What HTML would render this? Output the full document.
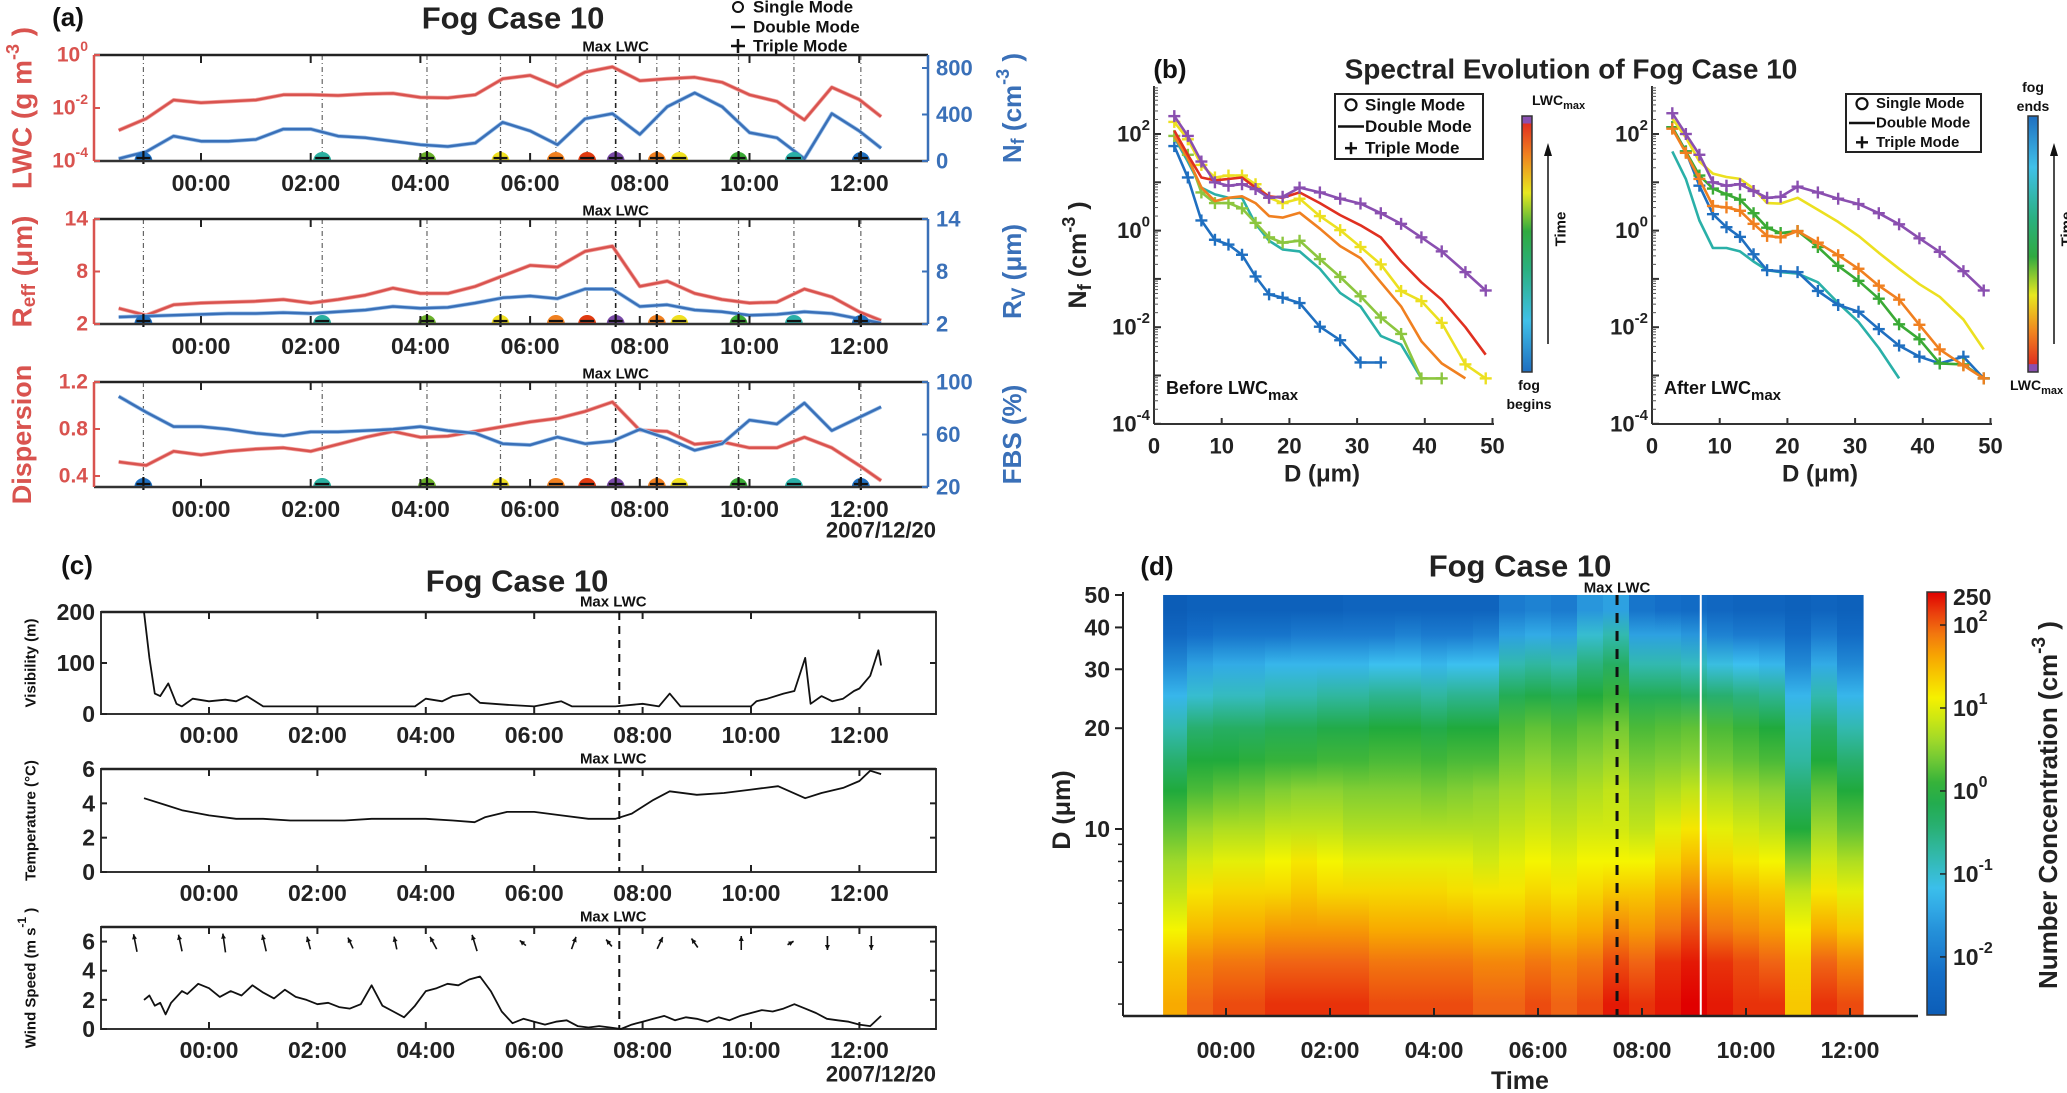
<!DOCTYPE html>
<html><head><meta charset="utf-8">
<style>
html,body{margin:0;padding:0;background:#fff;}
svg{display:block;font-family:"Liberation Sans",Arial,sans-serif;font-weight:bold;}
</style></head>
<body>
<svg id="fig" width="2067" height="1093" viewBox="0 0 2067 1093" xmlns="http://www.w3.org/2000/svg"></svg>
<script>
// ---------- DATA: panel (a) ----------
const timesA = [-1.5,-1,-0.5,0,0.5,1,1.5,2,2.5,3,3.5,4,4.5,5,5.5,6,6.5,7,7.5,8,8.5,9,9.5,10,10.5,11,11.5,12,12.4];
const lwcLog = [-2.84,-2.4,-1.7,-1.8,-1.75,-1.7,-1.5,-1.5,-1.53,-1.47,-1.45,-1.6,-1.62,-1.5,-0.9,-0.77,-1.2,-0.65,-0.45,-0.97,-0.9,-0.84,-1.03,-1.5,-1.75,-2.45,-1.22,-1.68,-2.33];
const nfVals = [20,80,214,170,170,185,274,274,214,200,170,140,125,155,333,259,140,363,408,229,467,586,467,244,200,20,408,259,110];
const reffVals = [3.8,3.0,4.2,4.4,4.5,4.6,4.8,4.4,4.8,5.3,6.1,5.5,5.5,6.3,7.5,8.7,8.5,10.3,10.9,6.3,6.9,5.5,4.8,4.4,4.5,6.0,5.1,3.4,2.4];
const rvVals = [2.8,2.9,3.0,3.1,3.2,3.2,3.3,3.2,3.4,3.6,4.0,3.8,3.9,4.4,5.0,5.2,4.9,6.0,6.0,4.0,4.2,3.6,3.4,3.0,3.1,3.4,3.2,2.6,2.1];
const dispVals = [0.52,0.49,0.61,0.58,0.61,0.63,0.64,0.61,0.67,0.73,0.78,0.73,0.74,0.78,0.82,0.86,0.89,0.95,1.03,0.79,0.78,0.67,0.69,0.64,0.64,0.73,0.64,0.49,0.36];
const fbsVals = [89,77,66,66,64,61,59,62,62,63,64,66,63,61,53,52,58,53,55,64,57,48,53,71,68,84,63,73,81];
const markerTimes = [-1.05,2.21,4.12,5.46,6.47,7.04,7.56,8.31,8.72,9.8,10.81,12.03];
const markerColors = ['#1f6fc0','#2ab0a0','#6ab02a','#f0e020','#f08020','#e03a10','#7a4aa8','#f08020','#f0e020','#3aaa35','#2ab0a8','#1f6fc0'];
const markerModes = ['+','-','+','+','-','-','+','+','-','+','-','+'];
const maxLwcTime = 7.56;
const hourTicks = [0,2,4,6,8,10,12];
const hourLabels = ['00:00','02:00','04:00','06:00','08:00','10:00','12:00'];

// ---------- DATA: panel (b) ----------
const dBins = [3,5,7,9,11,13,15,17,19,21.5,24.5,27.5,30.5,33.5,36.5,39.5,42.5,46,49];
const beforeColors = ['#1f6fc0','#2ab0a8','#8cc63f','#f08020','#ece020','#e03020','#8a4fb0'];
const beforeMarks = [true,false,true,false,true,false,true];
const beforeBlue = [1.75,1.1,0.21,-0.19,-0.29,-0.5,-0.95,-1.32,-1.39,-1.5,-1.99,-2.27,-2.73,-2.73,null,null,null,null,null];
const beforeTeal = [1.93,1.43,0.89,0.75,0.68,0.68,0.14,-0.21,-0.39,-0.43,-0.79,-1.29,-1.57,-2.18,-2.36,-3.06,null,null,null];
const beforeYG = [1.96,1.57,0.79,0.57,0.57,0.46,0.16,-0.14,-0.25,-0.21,-0.59,-0.96,-1.36,-1.8,-2.14,-3.06,-3.06,null,null];
const beforeOrange = [1.96,1.5,0.89,0.61,0.68,0.71,0.57,0.3,0.27,0.37,0.04,-0.32,-0.57,-1.07,-1.57,-2.29,-2.75,-3.06,null];
const beforeYellow = [2.25,1.89,1.36,1.1,1.14,1.14,0.96,0.68,0.57,0.66,0.3,0.01,-0.34,-0.7,-1.25,-1.46,-1.91,-2.77,-3.06];
const beforeRed = [2.07,1.57,1.1,1.04,1.07,1.1,0.89,0.71,0.68,0.79,0.57,0.32,0.11,-0.14,-0.64,-1.07,-1.43,-2.0,-2.57];
const beforePurple = [2.37,1.96,1.43,1.0,0.93,0.96,0.86,0.68,0.7,0.89,0.79,0.66,0.56,0.36,0.14,-0.14,-0.43,-0.86,-1.24];
const afterColors = ['#2ab0a8','#1f6fc0','#3aaa35','#f08020','#ece020','#8a4fb0'];
const afterMarks = [false,true,true,true,false,true];
const afterTeal = [1.64,1.07,0.21,-0.36,-0.36,-0.43,-0.64,-0.82,-0.86,-0.89,-1.07,-1.5,-1.89,-2.43,-3.06,null,null,null,null];
const afterBlue = [2.14,1.64,0.93,0.34,0.07,-0.13,-0.49,-0.82,-0.84,-0.86,-1.25,-1.54,-1.68,-2.04,-2.38,-2.61,-2.75,-2.61,-3.06];
const afterGreen = [2.14,1.64,1.14,0.87,0.75,0.64,0.36,0.06,-0.05,-0.01,-0.34,-0.73,-1.04,-1.41,-1.94,-2.25,-2.75,-2.77,-3.06];
const afterOrange = [2.11,1.61,1.07,0.51,0.48,0.41,0.14,-0.11,-0.14,-0.01,-0.25,-0.51,-0.79,-1.14,-1.43,-1.95,-2.46,-2.79,-3.06];
const afterYellow = [2.32,1.93,1.43,1.18,1.11,1.07,0.87,0.57,0.56,0.68,0.43,0.18,-0.11,-0.46,-0.79,-1.11,-1.37,-1.84,-2.46];
const afterPurple = [2.43,2.0,1.57,1.0,0.93,0.96,0.82,0.68,0.7,0.91,0.79,0.66,0.55,0.36,0.13,-0.16,-0.44,-0.84,-1.24];

// ---------- DATA: panel (c) ----------
const visTimes = [-1.2,-1.1,-1.0,-0.9,-0.75,-0.6,-0.5,-0.3,0,0.3,0.5,0.7,1,2,3,3.8,4,4.3,4.5,4.8,5,5.5,6,6.5,6.7,7,7.5,8,8.3,8.5,8.7,9,10,10.1,10.3,10.6,10.8,11,11.1,11.3,11.5,11.7,11.9,12,12.2,12.35,12.4];
const visVals = [200,110,40,35,60,20,15,30,25,28,25,35,15,15,15,15,30,25,35,40,22,18,15,25,15,15,15,20,15,40,15,15,15,25,30,40,45,110,20,35,25,30,45,50,75,125,95];
const tempTimes = [-1.2,-0.8,-0.5,0,0.5,1,1.5,2,2.5,3,3.5,4,4.5,4.9,5.1,5.5,6,6.5,7,7.5,7.8,8.2,8.5,9,9.5,10,10.5,11,11.3,11.7,12,12.2,12.4];
const tempVals = [4.3,3.9,3.6,3.3,3.1,3.1,3.0,3.0,3.0,3.1,3.1,3.1,3.0,2.9,3.2,3.5,3.5,3.3,3.1,3.1,3.4,4.2,4.7,4.5,4.6,4.8,5.0,4.3,4.6,4.9,5.3,5.9,5.7];
const windTimes = [-1.2,-1.1,-1.0,-0.9,-0.8,-0.7,-0.5,-0.4,-0.2,0,0.2,0.4,0.6,0.8,1,1.2,1.4,1.6,1.8,2,2.2,2.4,2.6,2.8,3,3.2,3.4,3.6,3.8,4,4.2,4.4,4.6,4.8,5,5.2,5.4,5.6,5.8,6,6.2,6.4,6.6,6.8,7,7.2,7.4,7.6,7.8,8,8.2,8.4,8.6,8.8,9,9.2,9.4,9.6,9.8,10,10.2,10.4,10.6,10.8,11,11.2,11.4,11.6,11.8,12,12.2,12.4];
const windVals = [2.0,2.3,1.6,1.8,1.0,1.8,2.6,2.4,3.1,2.8,2.2,2.6,2.3,3.0,2.5,2.1,2.7,2.2,2.0,1.7,1.8,1.5,1.4,1.7,3.0,1.6,1.2,0.8,1.6,2.6,2.8,3.1,3.0,3.4,3.6,2.6,1.2,0.4,0.7,0.5,0.3,0.5,0.6,0.2,0.1,0.2,0.1,0.0,0.3,0.5,0.7,0.9,0.6,0.8,0.7,0.5,0.8,0.6,0.9,1.1,1.3,1.2,1.4,1.7,1.4,1.1,0.7,0.6,0.5,0.3,0.2,0.9];
const arrowTimes = [-1.36,-0.53,0.28,1.02,1.84,2.61,3.44,4.14,4.9,5.79,6.73,7.38,8.32,8.96,9.82,10.73,11.41,12.22];
const arrowAngles = [-11,-12,-8,-13,-15,-25,-12,-28,-17,-50,20,-40,25,-35,0,60,180,180];
const arrowLens = [18,17,19,17,13,12,13,14,17,8,13,9,13,11,14,7,14,14];

// ---------- DATA: panel (d) ----------
const hmD = [3,4,5,6.5,8,10,13,16,20,25,31,38,45];
const hmTimes = [-1.0,-0.5,0,0.5,1,1.5,2,2.5,3,3.5,4,4.5,5,5.5,6,6.5,7,7.5,8,8.5,9,9.5,10,10.5,11,11.5,12];
const hmCols = [
 [1.6,1.4,1.1,0.8,0.6,0.3,0.0,-0.4,-0.8,-1.3,-1.8,-2.4,-2.7],
 [2.0,1.8,1.5,1.2,0.9,0.6,0.2,0.0,-0.4,-1.0,-1.5,-2.2,-2.6],
 [2.1,1.9,1.6,1.3,1.0,0.7,0.3,0.0,-0.3,-0.9,-1.4,-2.1,-2.6],
 [2.1,1.9,1.6,1.3,1.0,0.7,0.35,0.05,-0.3,-0.9,-1.4,-2.1,-2.6],
 [2.2,2.0,1.7,1.3,1.1,0.8,0.45,0.1,-0.2,-0.8,-1.3,-2.1,-2.6],
 [2.2,2.0,1.7,1.4,1.2,0.8,0.5,0.1,-0.2,-0.8,-1.3,-2.0,-2.6],
 [2.2,2.0,1.7,1.3,1.1,0.8,0.5,0.15,-0.1,-0.7,-1.3,-2.0,-2.6],
 [2.2,2.0,1.7,1.3,1.0,0.7,0.45,0.15,-0.1,-0.7,-1.3,-2.0,-2.5],
 [2.1,1.9,1.6,1.3,1.0,0.7,0.45,0.2,0.0,-0.6,-1.2,-2.0,-2.5],
 [2.1,1.9,1.6,1.3,1.0,0.7,0.45,0.2,0.0,-0.6,-1.2,-1.9,-2.5],
 [2.1,1.9,1.6,1.3,1.0,0.7,0.4,0.15,-0.1,-0.7,-1.3,-2.0,-2.5],
 [2.1,1.9,1.6,1.25,1.0,0.7,0.45,0.2,0.0,-0.6,-1.2,-2.0,-2.5],
 [2.0,1.8,1.5,1.2,0.9,0.7,0.5,0.2,0.0,-0.6,-1.2,-1.9,-2.5],
 [2.0,1.8,1.5,1.2,1.0,0.8,0.6,0.4,0.2,-0.2,-0.8,-1.5,-2.0],
 [2.1,1.9,1.6,1.3,1.1,0.9,0.7,0.5,0.3,-0.1,-0.7,-1.4,-1.9],
 [2.0,1.8,1.5,1.2,1.0,0.8,0.6,0.4,0.2,-0.2,-0.8,-1.5,-2.0],
 [2.1,1.9,1.6,1.3,1.1,0.9,0.7,0.5,0.3,0.0,-0.5,-1.0,-1.6],
 [2.3,2.1,1.8,1.4,1.1,0.9,0.8,0.6,0.4,0.1,-0.3,-0.8,-1.5],
 [2.2,2.0,1.7,1.4,1.1,0.8,0.6,0.4,0.2,-0.2,-0.8,-1.5,-2.1],
 [2.3,2.2,1.9,1.6,1.3,1.0,0.7,0.45,0.25,-0.2,-0.8,-1.5,-2.2],
 [2.4,2.3,2.1,1.8,1.5,1.2,0.8,0.5,0.3,-0.3,-0.9,-1.6,-2.3],
 [2.3,2.2,1.9,1.6,1.3,1.0,0.7,0.4,0.2,-0.4,-1.1,-1.9,-2.4],
 [2.2,2.1,1.8,1.5,1.2,0.9,0.6,0.3,0.1,-0.5,-1.2,-2.0,-2.5],
 [2.2,2.0,1.7,1.4,1.1,0.8,0.5,0.2,0.0,-0.6,-1.3,-2.0,-2.5],
 [1.4,1.3,1.1,0.8,0.4,0.0,-0.4,-0.7,-0.9,-1.3,-1.8,-2.3,-2.6],
 [2.2,2.0,1.6,1.2,0.9,0.6,0.3,0.0,-0.3,-0.8,-1.4,-2.0,-2.5],
 [2.1,1.8,1.4,1.0,0.7,0.3,0.0,-0.4,-0.8,-1.3,-1.8,-2.3,-2.6]
];
const cbTicks = [-2,-1,0,1,2];
const dTicks = [10,20,30,40,50];

// ---------- helpers ----------
const NS = 'http://www.w3.org/2000/svg';
const svg = document.getElementById('fig');
function mk(tag, parent, attrs) {
  const e = document.createElementNS(NS, tag);
  for (const k in attrs) e.setAttribute(k, attrs[k]);
  (parent || svg).appendChild(e);
  return e;
}
function nm(e, n, i) {
  
  
  return e;
}
function txt(parent, x, y, html, o) {
  o = o || {};
  const t = mk('text', parent, {x: x, y: y, 'font-size': o.fs || 20, fill: o.c || '#222', 'text-anchor': o.a || 'middle', 'dominant-baseline': 'central'});
  if (o.rot) t.setAttribute('transform', 'rotate(-90 ' + x + ' ' + y + ')');
  t.innerHTML = html;
  return t;
}
function sup(s, fs) { return '<tspan dy="-9" font-size="' + fs + '">' + s + '</tspan><tspan dy="9"> </tspan>'; }
function pathD(xs, ys) {
  let d = '', pen = false;
  for (let i = 0; i < xs.length; i++) {
    if (ys[i] === null || ys[i] === undefined) { pen = false; continue; }
    d += (pen ? 'L' : 'M') + xs[i].toFixed(1) + ' ' + ys[i].toFixed(1);
    pen = true;
  }
  return d;
}
function line(p, x1, y1, x2, y2, c, w, dash) {
  const l = mk('line', p, {x1: x1, y1: y1, x2: x2, y2: y2, stroke: c, 'stroke-width': w});
  if (dash) l.setAttribute('stroke-dasharray', dash);
  return l;
}
const RED = '#d9534f', RED_L = '#f2a6a2', BLUE = '#3a70b8', BLUE_L = '#9cc2ea';

// ---------- PANEL (a) ----------
const gA = mk('g', svg, {});
nm(gA, 'panel-a', false);
const xa = t => 201 + 54.85 * t;
const AX0 = 94, AX1 = 928;
nm(txt(gA, 68, 17, '(a)', {fs: 26, c: '#111'}), 'panel-a-label', false);
nm(txt(gA, 513, 18, 'Fog Case 10', {fs: 31, c: '#222'}), 'panel-a-title', false);
const legA = mk('g', gA, {});
nm(legA, 'panel-a-legend', false);
mk('circle', legA, {cx: 738, cy: 7, r: 5, fill: 'none', stroke: '#111', 'stroke-width': 2});
txt(legA, 753, 7, 'Single Mode', {fs: 17, a: 'start', c: '#111'});
line(legA, 731, 27, 745, 27, '#111', 2.5);
txt(legA, 753, 27, 'Double Mode', {fs: 17, a: 'start', c: '#111'});
line(legA, 731, 46, 745, 46, '#111', 2.5); line(legA, 738, 39, 738, 53, '#111', 2.5);
txt(legA, 753, 46, 'Triple Mode', {fs: 17, a: 'start', c: '#111'});

const plotsA = [
  {top: 55, bot: 161, name: 'lwc-nf-plot',
   yl: v => 55 + (0 - v) / 4 * 106, yr: v => 161 - v * 0.11625,
   ls: lwcLog, rs: nfVals,
   lt: [[0, '10' + sup('0', 14)], [-2, '10' + sup('-2', 14)], [-4, '10' + sup('-4', 14)]],
   rt: [[0, '0'], [400, '400'], [800, '800']],
   lTitle: 'LWC (g m' + sup('-3', 18) + ')', rTitle: 'N<tspan dy="6" font-size="18">f</tspan><tspan dy="-6"> (cm</tspan>' + sup('-3', 18) + ')'},
  {top: 219, bot: 324, name: 'reff-rv-plot',
   yl: v => 324 - (v - 2) * 105 / 12, yr: v => 324 - (v - 2) * 105 / 12,
   ls: reffVals, rs: rvVals,
   lt: [[2, '2'], [8, '8'], [14, '14']], rt: [[2, '2'], [8, '8'], [14, '14']],
   lTitle: 'R<tspan dy="7" font-size="19">eff</tspan><tspan dy="-7"> (μm)</tspan>', rTitle: 'R<tspan dy="7" font-size="19">V</tspan><tspan dy="-7"> (μm)</tspan>'},
  {top: 382, bot: 487, name: 'dispersion-fbs-plot',
   yl: v => 476 - (v - 0.4) * 117.5, yr: v => 487 - (v - 20) * 105 / 80,
   ls: dispVals, rs: fbsVals,
   lt: [[0.4, '0.4'], [0.8, '0.8'], [1.2, '1.2']], rt: [[20, '20'], [60, '60'], [100, '100']],
   lTitle: 'Dispersion', rTitle: 'FBS (%)'}
];
const xsA = timesA.map(xa);
plotsA.forEach((P, pi) => {
  const g = mk('g', gA, {});
  nm(g, P.name, false);
  markerTimes.forEach((t, i) => {
    const l = line(g, xa(t), P.top, xa(t), P.bot, t === maxLwcTime ? '#222' : '#666', t === maxLwcTime ? 1.6 : 1.2, '5,3,1,3');
    nm(l, 'marker-line', false);
  });
  nm(txt(g, xa(maxLwcTime), P.top - 8, 'Max LWC', {fs: 15, c: '#111'}), 'max-lwc-label', false);
  const lp = mk('path', g, {d: pathD(xsA, P.ls.map(P.yl)), fill: 'none', stroke: RED_L, 'stroke-width': 4, 'stroke-linejoin': 'round'});
  nm(lp, 'left-series-raw', false);
  const lp2 = mk('path', g, {d: pathD(xsA, P.ls.map(P.yl)), fill: 'none', stroke: RED, 'stroke-width': 2.5, 'stroke-linejoin': 'round'});
  nm(lp2, 'left-series', false);
  const rp = mk('path', g, {d: pathD(xsA, P.rs.map(P.yr)), fill: 'none', stroke: BLUE_L, 'stroke-width': 4, 'stroke-linejoin': 'round'});
  nm(rp, 'right-series-raw', false);
  const rp2 = mk('path', g, {d: pathD(xsA, P.rs.map(P.yr)), fill: 'none', stroke: BLUE, 'stroke-width': 2.5, 'stroke-linejoin': 'round'});
  nm(rp2, 'right-series', false);
  markerTimes.forEach((t, i) => {
    const x = xa(t), y = P.bot;
    const m = mk('path', g, {d: 'M' + (x - 9) + ' ' + y + ' A9 9 0 0 1 ' + (x + 9) + ' ' + y + ' Z', fill: markerColors[i]});
    nm(m, 'mode-marker', false);
    line(g, x - 7, y - 3, x + 7, y - 3, '#111', 2.2);
    if (markerModes[i] === '+') line(g, x, y - 10, x, y + 3, '#111', 2.2);
  });
  line(g, AX0, P.top, AX1, P.top, '#222', 2.5);
  line(g, AX0, P.bot, AX1, P.bot, '#333', 2.5);
  line(g, AX0, P.top, AX0, P.bot, RED, 2.5);
  line(g, AX1, P.top, AX1, P.bot, BLUE, 2.5);
  hourTicks.forEach(h => { line(g, xa(h), P.top, xa(h), P.top + 8, '#222', 2); line(g, xa(h), P.bot, xa(h), P.bot - 8, '#222', 2); });
  P.lt.forEach(tk => { const y = P.yl(tk[0]); line(g, AX0, y, AX0 + 6, y, RED, 2); nm(txt(g, AX0 - 6, y, tk[1], {fs: 21, a: 'end', c: RED}), 'left-tick-label', false); });
  P.rt.forEach(tk => { const y = P.yr(tk[0]); line(g, AX1 - 6, y, AX1, y, BLUE, 2); nm(txt(g, AX1 + 8, y, tk[1], {fs: 22, a: 'start', c: BLUE}), 'right-tick-label', false); });
  hourTicks.forEach((h, i) => nm(txt(g, xa(h), P.bot + 22, hourLabels[i], {fs: 23, c: '#222'}), 'x-tick-label', false));
  nm(txt(g, 22, (P.top + P.bot) / 2, P.lTitle, {fs: pi === 2 ? 27 : 28, c: RED, rot: true}), 'left-axis-title', false);
  nm(txt(g, 1012, (P.top + P.bot) / 2, P.rTitle, {fs: 26, c: BLUE, rot: true}), 'right-axis-title', false);
});
nm(txt(gA, 936, 530, '2007/12/20', {fs: 22, a: 'end', c: '#222'}), 'date-label-a', false);

// ---------- PANEL (b) ----------
const gB = mk('g', svg, {});
nm(gB, 'panel-b', false);
nm(txt(gB, 1170, 69, '(b)', {fs: 26, c: '#111'}), 'panel-b-label', false);
nm(txt(gB, 1571, 69, 'Spectral Evolution of Fog Case 10', {fs: 28, c: '#222'}), 'panel-b-title', false);
const yb = v => 134 - (v - 2) * 48.3;
const defs = mk('defs', svg, {});
function gradient(id, stops, vertical) {
  const lg = mk('linearGradient', defs, {id: id, x1: 0, y1: vertical ? 1 : 0, x2: 0, y2: 0});
  stops.forEach(s => mk('stop', lg, {offset: s[0], 'stop-color': s[1]}));
}
const cmStops = [[-2.8,[10,90,180]],[-2.2,[20,110,200]],[-1.6,[40,150,220]],[-1.2,[60,192,240]],[-0.8,[50,185,175]],[-0.4,[40,175,110]],[0,[32,170,60]],[0.5,[140,210,50]],[1.1,[245,245,0]],[1.6,[248,170,0]],[2.0,[240,100,20]],[2.4,[224,0,0]]];
function cmap(v) {
  if (v <= cmStops[0][0]) v = cmStops[0][0];
  if (v >= cmStops[cmStops.length - 1][0]) v = cmStops[cmStops.length - 1][0];
  for (let i = 0; i < cmStops.length - 1; i++) {
    const a = cmStops[i], b = cmStops[i + 1];
    if (v >= a[0] && v <= b[0]) {
      const f = (v - a[0]) / (b[0] - a[0]);
      const c = a[1].map((q, k) => Math.round(q + (b[1][k] - q) * f));
      return 'rgb(' + c.join(',') + ')';
    }
  }
  return '#000';
}
gradient('cbTime', [[0, '#1f6fc0'], [0.2, '#40c0e8'], [0.4, '#2ab080'], [0.55, '#30aa40'], [0.7, '#e8e820'], [0.85, '#f08020'], [0.97, '#e03020'], [0.971, '#8a4fb0'], [1, '#8a4fb0']], true);
gradient('cbTimeR', [[0, '#8a4fb0'], [0.03, '#8a4fb0'], [0.031, '#e03020'], [0.15, '#f08020'], [0.3, '#e8e820'], [0.45, '#30aa40'], [0.6, '#2ab080'], [0.8, '#40c0e8'], [1, '#1f6fc0']], true);
const sub = [
  {x0: 1154, name: 'before-lwcmax-plot', series: [beforeBlue, beforeTeal, beforeYG, beforeOrange, beforeYellow, beforeRed, beforePurple], colors: beforeColors, marks: beforeMarks,
   leg: [1335, 94, 148, 65], cb: [1522, 'cbTime'], note: 'Before LWC<tspan dy="7" font-size="15">max</tspan>'},
  {x0: 1652, name: 'after-lwcmax-plot', series: [afterTeal, afterBlue, afterGreen, afterOrange, afterYellow, afterPurple], colors: afterColors, marks: afterMarks,
   leg: [1846, 94, 135, 58], cb: [2028, 'cbTimeR'], note: 'After LWC<tspan dy="7" font-size="15">max</tspan>'}
];
sub.forEach((S, si) => {
  const g = mk('g', gB, {});
  nm(g, S.name, false);
  const xb = d => S.x0 + 6.77 * d;
  line(g, S.x0, 86, S.x0, 424, '#333', 2);
  line(g, S.x0, 424, S.x0 + 340, 424, '#333', 2);
  for (let dec = -4; dec <= 2; dec++) {
    line(g, S.x0, yb(dec), S.x0 + 7, yb(dec), '#333', 2);
    for (let k = 2; k <= 9; k++) { const y = yb(dec + Math.log10(k)); if (y >= 86) line(g, S.x0, y, S.x0 + 4, y, '#555', 1); }
  }
  [-4, -2, 0, 2].forEach(v => nm(txt(g, S.x0 - 4, yb(v), '10' + sup(String(v), 15), {fs: 22, a: 'end', c: '#222'}), 'y-tick-label', false));
  [0, 10, 20, 30, 40, 50].forEach(d => { line(g, xb(d), 424, xb(d), 418, '#333', 2); nm(txt(g, xb(d), 446, String(d), {fs: 22, c: '#222'}), 'x-tick-label', false); });
  nm(txt(g, S.x0 + 168, 474, 'D (μm)', {fs: 24, c: '#222'}), 'x-axis-title', false);
  nm(txt(g, S.x0 + 12, 388, S.note, {fs: 18, a: 'start', c: '#111'}), 'panel-note', false);
  S.series.forEach((vals, k) => {
    const p = mk('path', g, {d: pathD(dBins.map(xb), vals.map(v => v === null ? null : yb(v))), fill: 'none', stroke: S.colors[k], 'stroke-width': 2.6, 'stroke-linejoin': 'round'});
    nm(p, 'spectrum-line', false);
    if (S.marks[k]) vals.forEach((v, j) => {
      if (v === null) return;
      const x = xb(dBins[j]), y = yb(v);
      line(g, x - 6, y, x + 6, y, S.colors[k], 2.4);
      line(g, x, y - 6, x, y + 6, S.colors[k], 2.4);
    });
  });
  const L = S.leg;
  const lg = mk('g', g, {});
  nm(lg, 'mode-legend', false);
  mk('rect', lg, {x: L[0], y: L[1], width: L[2], height: L[3], fill: '#fff', stroke: '#222', 'stroke-width': 2});
  const rh = L[3] / 3;
  mk('circle', lg, {cx: L[0] + 16, cy: L[1] + rh * 0.5, r: 5.5, fill: 'none', stroke: '#111', 'stroke-width': 2.2});
  txt(lg, L[0] + 30, L[1] + rh * 0.5, 'Single Mode', {fs: si ? 15 : 17, a: 'start', c: '#111'});
  line(lg, L[0] + 3, L[1] + rh * 1.5, L[0] + 29, L[1] + rh * 1.5, '#111', 2.5);
  txt(lg, L[0] + 30, L[1] + rh * 1.5, 'Double Mode', {fs: si ? 15 : 17, a: 'start', c: '#111'});
  line(lg, L[0] + 10, L[1] + rh * 2.5, L[0] + 22, L[1] + rh * 2.5, '#111', 2.5);
  line(lg, L[0] + 16, L[1] + rh * 2.5 - 6, L[0] + 16, L[1] + rh * 2.5 + 6, '#111', 2.5);
  txt(lg, L[0] + 30, L[1] + rh * 2.5, 'Triple Mode', {fs: si ? 15 : 17, a: 'start', c: '#111'});
  const cb = mk('rect', g, {x: S.cb[0], y: 116, width: 10, height: 256, fill: 'url(#' + S.cb[1] + ')', stroke: '#333', 'stroke-width': 1.5});
  nm(cb, 'time-colorbar', false);
  const ax = S.cb[0] + 26;
  line(g, ax, 344, ax, 148, '#111', 1.5);
  mk('path', g, {d: 'M' + (ax - 4) + ' 156 L' + ax + ' 143 L' + (ax + 4) + ' 156 Z', fill: '#111'});
  nm(txt(g, ax + 13, 229, 'Time', {fs: 15, c: '#111', rot: true}), 'time-arrow-label', false);
  if (si === 0) {
    txt(g, 1532, 100, 'LWC<tspan dy="6" font-size="11">max</tspan>', {fs: 14, a: 'start', c: '#111'});
    txt(g, 1529, 385, 'fog', {fs: 14, c: '#111'});
    txt(g, 1529, 404, 'begins', {fs: 14, c: '#111'});
  } else {
    txt(g, 2033, 87, 'fog', {fs: 14, c: '#111'});
    txt(g, 2033, 106, 'ends', {fs: 14, c: '#111'});
    txt(g, 2010, 385, 'LWC<tspan dy="6" font-size="11">max</tspan>', {fs: 14, a: 'start', c: '#111'});
  }
});
nm(txt(gB, 1078, 255, 'N<tspan dy="7" font-size="19">f</tspan><tspan dy="-7"> (cm</tspan>' + sup('-3', 18) + ')', {fs: 25, c: '#222', rot: true}), 'y-axis-title', false);

// ---------- PANEL (c) ----------
const gC = mk('g', svg, {});
nm(gC, 'panel-c', false);
const xc = t => 209 + 54.2 * t;
const CX0 = 101, CX1 = 936;
nm(txt(gC, 77, 565, '(c)', {fs: 26, c: '#111'}), 'panel-c-label', false);
nm(txt(gC, 517, 581, 'Fog Case 10', {fs: 31, c: '#222'}), 'panel-c-title', false);
const plotsC = [
  {top: 612, bot: 714, name: 'visibility-plot', y: v => 714 - v * 102 / 200, ticks: [0, 100, 200], title: 'Visibility (m)', t: visTimes, v: visVals},
  {top: 769, bot: 872, name: 'temperature-plot', y: v => 872 - v * 103 / 6, ticks: [0, 2, 4, 6], title: 'Temperature (°C)', t: tempTimes, v: tempVals},
  {top: 927, bot: 1029, name: 'wind-speed-plot', y: v => 1029 - v * 102 / 7, ticks: [0, 2, 4, 6], title: 'Wind Speed (m s' + sup('-1', 12) + ')', t: windTimes, v: windVals}
];
plotsC.forEach((P, pi) => {
  const g = mk('g', gC, {});
  nm(g, P.name, false);
  mk('rect', g, {x: CX0, y: P.top, width: CX1 - CX0, height: P.bot - P.top, fill: 'none', stroke: '#333', 'stroke-width': 2});
  line(g, CX0, P.top, CX1, P.top, '#222', 2.5);
  hourTicks.forEach((h, i) => {
    line(g, xc(h), P.top, xc(h), P.top + 7, '#222', 2);
    line(g, xc(h), P.bot, xc(h), P.bot - 7, '#222', 2);
    nm(txt(g, xc(h), P.bot + 21, hourLabels[i], {fs: 23, c: '#222'}), 'x-tick-label', false);
  });
  P.ticks.forEach(v => { line(g, CX0, P.y(v), CX0 + 6, P.y(v), '#222', 2); line(g, CX1 - 6, P.y(v), CX1, P.y(v), '#222', 2); nm(txt(g, CX0 - 6, P.y(v), String(v), {fs: 23, a: 'end', c: '#222'}), 'y-tick-label', false); });
  const s = mk('path', g, {d: pathD(P.t.map(xc), P.v.map(P.y)), fill: 'none', stroke: '#111', 'stroke-width': 1.8, 'stroke-linejoin': 'round'});
  nm(s, 'series-line', false);
  nm(line(g, xc(7.57), P.top, xc(7.57), P.bot, '#111', 2, '8,6'), 'max-lwc-line', false);
  nm(txt(g, xc(7.57) - 6, P.top - 10, 'Max LWC', {fs: 15, c: '#111'}), 'max-lwc-label', false);
  nm(txt(g, 31, (P.top + P.bot) / 2, P.title, {fs: 15, c: '#111', rot: true}), 'y-axis-title', false);
  if (pi === 2) {
    arrowTimes.forEach((t, i) => {
      const a = arrowAngles[i] * Math.PI / 180, L = arrowLens[i];
      const cx = xc(t), cy = 943;
      const dx = Math.sin(a) * L / 2, dy = -Math.cos(a) * L / 2;
      const ar = mk('g', g, {});
      nm(ar, 'wind-direction-arrow', false);
      line(ar, cx - dx, cy - dy, cx + dx, cy + dy, '#111', 1.6);
      const hx = cx + dx, hy = cy + dy, ux = dx / (L / 2), uy = dy / (L / 2);
      mk('path', ar, {d: 'M' + hx + ' ' + hy + ' L' + (hx - ux * 5 - uy * 2.5) + ' ' + (hy - uy * 5 + ux * 2.5) + ' L' + (hx - ux * 5 + uy * 2.5) + ' ' + (hy - uy * 5 - ux * 2.5) + ' Z', fill: '#111'});
    });
  }
});
nm(txt(gC, 936, 1074, '2007/12/20', {fs: 22, a: 'end', c: '#222'}), 'date-label-c', false);

// ---------- PANEL (d) ----------
const gD = mk('g', svg, {});
nm(gD, 'panel-d', false);
const xd = t => 1226 + 52 * t;
const yd = D => 829 - (Math.log10(D) - 1) * 334.8;
nm(txt(gD, 1157, 566, '(d)', {fs: 26, c: '#111'}), 'panel-d-label', false);
nm(txt(gD, 1520, 566, 'Fog Case 10', {fs: 31, c: '#222'}), 'panel-d-title', false);
const hm = mk('g', gD, {});
nm(hm, 'heatmap', false);
const HM_T0 = -1.21, HM_T1 = 12.29, Y_TOP = yd(50), Y_BOT = 1016;
hmTimes.forEach((t, i) => {
  const gid = 'hmc' + i;
  const lg = mk('linearGradient', defs, {id: gid, gradientUnits: 'userSpaceOnUse', x1: 0, y1: Y_BOT, x2: 0, y2: Y_TOP});
  hmD.forEach((D, j) => {
    const off = (Y_BOT - yd(D)) / (Y_BOT - Y_TOP);
    mk('stop', lg, {offset: Math.max(0, Math.min(1, off)).toFixed(4), 'stop-color': cmap(hmCols[i][j])});
  });
  const x0 = xd(Math.max(HM_T0, t - 0.25)), x1 = xd(Math.min(HM_T1, t + 0.25));
  const r = mk('rect', hm, {x: x0.toFixed(1), y: Y_TOP, width: (x1 - x0 + 0.6).toFixed(1), height: Y_BOT - Y_TOP, fill: 'url(#' + gid + ')'});
  nm(r, 'heatmap-column', false);
});
line(gD, xd(9.13), Y_TOP, xd(9.13), Y_BOT, '#fff', 2);
nm(line(gD, xd(7.52), Y_TOP, xd(7.52), Y_BOT, '#111', 3, '10,8'), 'max-lwc-line', false);
nm(txt(gD, xd(7.52), 588, 'Max LWC', {fs: 15, c: '#111'}), 'max-lwc-label', false);
line(gD, 1123, 592, 1123, 1016, '#222', 2);
line(gD, 1123, 1016, 1918, 1016, '#222', 2.5);
dTicks.forEach(D => { line(gD, 1115, yd(D), 1123, yd(D), '#222', 2); nm(txt(gD, 1110, yd(D), String(D), {fs: 23, a: 'end', c: '#222'}), 'y-tick-label', false); });
[3, 4, 5, 6, 7, 8, 9].forEach(D => line(gD, 1118, yd(D), 1123, yd(D), '#222', 1.5));
hourTicks.forEach((h, i) => { line(gD, xd(h), 1016, xd(h), 1008, '#222', 2); nm(txt(gD, xd(h), 1050, hourLabels[i], {fs: 23, c: '#222'}), 'x-tick-label', false); });
nm(txt(gD, 1520, 1081, 'Time', {fs: 25, c: '#222'}), 'x-axis-title', false);
nm(txt(gD, 1062, 810, 'D (μm)', {fs: 25, c: '#222', rot: true}), 'y-axis-title', false);
const cbTop = 592, cbBot = 1015, cbL = -2.7, cbH = Math.log10(250);
const ycb = v => cbBot - (v - cbL) / (cbH - cbL) * (cbBot - cbTop);
const cbg = mk('linearGradient', defs, {id: 'cbD', x1: 0, y1: 1, x2: 0, y2: 0});
for (let k = 0; k <= 20; k++) { const v = cbL + (cbH - cbL) * k / 20; mk('stop', cbg, {offset: k / 20, 'stop-color': cmap(v)}); }
nm(mk('rect', gD, {x: 1927, y: cbTop, width: 19, height: cbBot - cbTop, fill: 'url(#cbD)', stroke: '#333', 'stroke-width': 1.5}), 'concentration-colorbar', false);
cbTicks.forEach(v => { line(gD, 1940, ycb(v), 1946, ycb(v), '#222', 1.5); nm(txt(gD, 1953, ycb(v), '10' + sup(String(v), 16), {fs: 23, a: 'start', c: '#222'}), 'colorbar-tick-label', false); });
nm(txt(gD, 1953, 597, '250', {fs: 23, a: 'start', c: '#222'}), 'colorbar-tick-label', false);
nm(txt(gD, 2048, 805, 'Number Concentration (cm' + sup('-3', 19) + ')', {fs: 26, c: '#222', rot: true}), 'colorbar-title', false);
</script>
</body></html>
